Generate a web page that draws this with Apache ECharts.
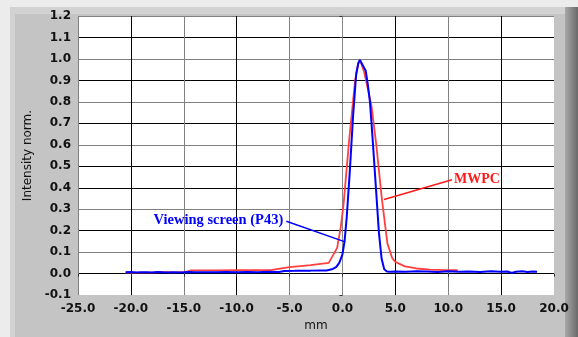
<!DOCTYPE html>
<html><head><meta charset="utf-8">
<script src="https://cdn.jsdelivr.net/npm/echarts@6/dist/echarts.min.js"></script>
<style>html,body{margin:0;padding:0;background:#ececec}#c{width:578px;height:337px}</style>
</head><body><div id="c"></div>
<script>
// Data (mm, normalized intensity)
var mwpcX = [-20.5,-17.5,-17.0,-16.0,-14.8,-14.3,-12.0,-10.0,-8.0,-6.8,-5.0,-3.0,-1.3,-0.5,-0.15,0.1,0.65,1.2,1.5,1.65,2.05,2.75,3.2,3.7,4.25,4.7,5.0,5.9,7.0,8.3,9.8,10.9];
var mwpcY = [0.005,0.006,0.008,0.006,0.008,0.015,0.015,0.016,0.016,0.016,0.030,0.040,0.050,0.120,0.220,0.320,0.630,0.900,0.980,0.995,0.940,0.780,0.600,0.360,0.140,0.073,0.055,0.034,0.024,0.019,0.016,0.016];
var screenX = [-20.5,-20.0,-19.5,-19.0,-18.5,-18.0,-17.5,-17.0,-16.5,-16.0,-15.5,-15.0,-14.5,-14.0,-13.0,-12.0,-11.0,-10.0,-9.0,-8.0,-7.0,-6.0,-5.5,-4.5,-4.0,-3.0,-2.0,-1.5,-1.0,-0.6,-0.3,0.0,0.2,0.4,0.7,1.0,1.3,1.5,1.65,1.8,2.2,2.4,2.6,2.85,3.15,3.45,3.7,3.95,4.2,4.5,5.0,6.0,7.0,8.0,9.0,10.0,11.0,12.0,13.0,14.0,15.0,15.6,16.0,16.4,17.0,17.5,18.0,18.4];
var screenY = [0.006,0.008,0.005,0.006,0.007,0.005,0.008,0.006,0.005,0.007,0.005,0.006,0.008,0.006,0.007,0.006,0.008,0.007,0.008,0.007,0.009,0.008,0.012,0.013,0.014,0.014,0.015,0.015,0.020,0.030,0.050,0.090,0.150,0.260,0.480,0.730,0.930,0.980,0.995,0.990,0.945,0.880,0.800,0.630,0.410,0.190,0.070,0.020,0.010,0.009,0.010,0.009,0.011,0.010,0.008,0.011,0.009,0.010,0.008,0.011,0.009,0.010,0.003,0.009,0.011,0.008,0.010,0.009];
var xTicks = [-25,-20,-15,-10,-5,0,5,10,15,20];
var yTicks = [-0.1,0,0.1,0.2,0.3,0.4,0.5,0.6,0.7,0.8,0.9,1.0,1.1,1.2];
// annotations: [text anchor x,y], leader line [from], [to]
var screenLabel = {text:'Viewing screen (P43)', at:[-5.6,0.249], from:[-5.3,0.244], to:[0.25,0.148]};
var mwpcLabel = {text:'MWPC', at:[10.55,0.437], from:[10.36,0.437], to:[3.93,0.345]};

function zip(a,b){return a.map(function(v,i){return [v,b[i]];});}
var chart = echarts.init(document.getElementById('c'), null, {renderer:'canvas'});
var lab = {fontFamily:'DejaVu Sans', fontWeight:'bold', fontSize:12, color:'#111'};
var option = {
  backgroundColor:'#ececec',
  animation:false,
  graphic:[
    {type:'rect', z:-10, shape:{x:10,y:7,width:560,height:330}, style:{fill:'#c4c4c4'}},
    {type:'rect', z:-10, shape:{x:10,y:7,width:560,height:7}, style:{fill:'#d2d2d2'}},
    {type:'rect', z:-10, shape:{x:10,y:7,width:5,height:330}, style:{fill:'#d2d2d2'}},
    {type:'rect', z:-10, shape:{x:565,y:7,width:13,height:330}, style:{fill:new echarts.graphic.LinearGradient(0,0,1,0,[{offset:0,color:'#a8a8a8'},{offset:1,color:'#6a6a6a'}])}}
  ],
  grid:{left:78, right:24, top:16, bottom:38, show:true, backgroundColor:'#ffffff', borderWidth:0},
  xAxis:{type:'value', min:-25, max:20, interval:5,
    name:'mm', nameLocation:'middle', nameGap:24,
    nameTextStyle:{fontFamily:'DejaVu Sans', fontSize:12, color:'#111'},
    axisLine:{show:false}, axisTick:{show:true, length:3, lineStyle:{color:'#333'}},
    axisLabel:Object.assign({margin:8, formatter:function(v){return v.toFixed(1);}}, lab),
    splitLine:{show:true, lineStyle:{width:1, color:['#808080','#000','#808080','#000','#808080','#808080','#000','#808080','#000','rgba(0,0,0,0)']}}
  },
  yAxis:{type:'value', min:-0.1, max:1.2, interval:0.1,
    name:'Intensity norm.', nameLocation:'middle', nameGap:33,
    nameTextStyle:{fontFamily:'DejaVu Sans', fontSize:12, color:'#111'},
    axisLine:{show:true, lineStyle:{color:'#888'}}, axisTick:{show:true, length:3, lineStyle:{color:'#333'}},
    axisLabel:Object.assign({margin:7, formatter:function(v){return v.toFixed(1);}}, lab),
    splitLine:{show:true, lineStyle:{width:1, color:['rgba(0,0,0,0)','#000','#808080','#000','#808080','#000','#000','#808080','#000','#808080','#000','#808080','#000','#808080']}}
  },
  series:[
    {type:'line', name:'MWPC', data:zip(mwpcX,mwpcY), showSymbol:false, lineStyle:{color:'#ff4040', width:1.8}, z:2},
    {type:'line', name:'Viewing screen (P43)', data:zip(screenX,screenY), showSymbol:false, lineStyle:{color:'#0000ff', width:2}, z:3}
  ]
};
chart.setOption(option);
function px(p){return chart.convertToPixel({gridIndex:0}, p);}
function ann(a, color, size, align){
  var t = px(a.at), f = px(a.from), e = px(a.to);
  return [
    {type:'line', z:10, shape:{x1:f[0],y1:f[1],x2:e[0],y2:e[1]}, style:{stroke:color, lineWidth:1.5}},
    {type:'text', z:10, x:t[0], y:t[1], style:{text:a.text, fill:color, font:'bold '+size+'px "Liberation Serif"', align:align, verticalAlign:'middle'}}
  ];
}
var g = option.graphic.concat(ann(screenLabel,'#0000ff',14.5,'right'), ann(mwpcLabel,'#ff1a1a',14,'left'));
chart.setOption({graphic:g});
</script></body></html>
